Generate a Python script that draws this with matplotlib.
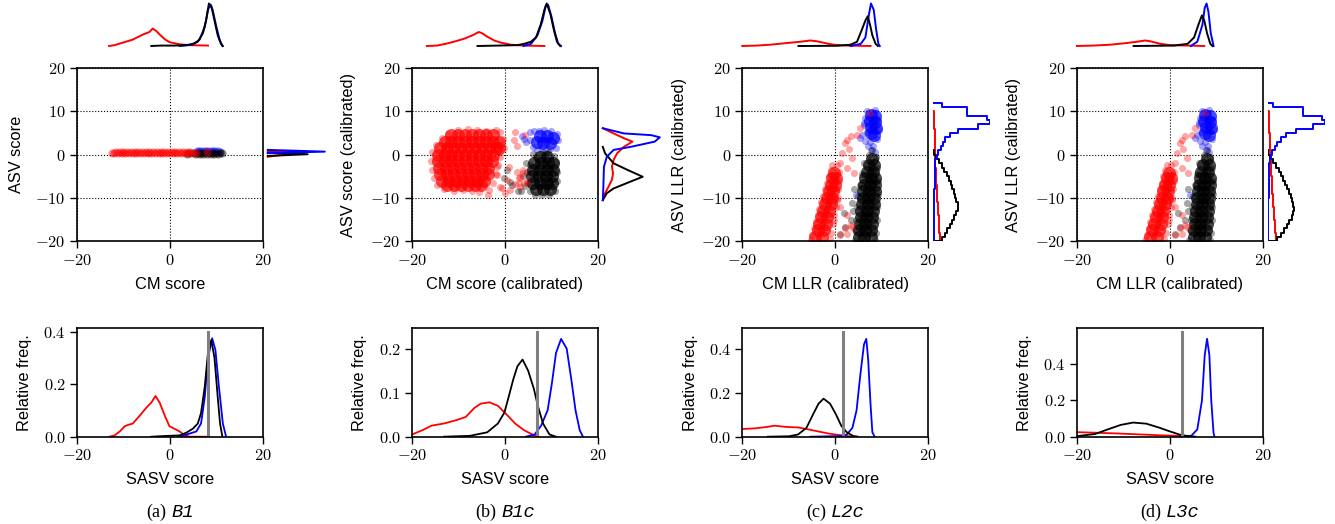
import numpy as np
import matplotlib
matplotlib.use('Agg')
import matplotlib.pyplot as plt
from matplotlib.ticker import FixedLocator, FuncFormatter

plt.rcParams['mathtext.fontset'] = 'cm'
plt.rcParams['font.family'] = ['Liberation Sans', 'DejaVu Sans']

# ---------------- text ----------------
panel_letters = ['(a)', '(b)', '(c)', '(d)']
system_names = ['B1', 'B1c', 'L2c', 'L3c']
x_labels = ['CM score', 'CM score (calibrated)', 'CM LLR (calibrated)', 'CM LLR (calibrated)']
y_labels = ['ASV score', 'ASV score (calibrated)', 'ASV LLR (calibrated)', 'ASV LLR (calibrated)']
hist_x_label = 'SASV score'
hist_y_label = 'Relative freq.'
main_xticks = [-20, 0, 20]
main_yticks = [-20, -10, 0, 10, 20]
hist_xticks = [-20, 0, 20]
hist_yticks = [[0.0, 0.2, 0.4], [0.0, 0.1, 0.2], [0.0, 0.2, 0.4], [0.0, 0.2, 0.4]]
hist_ymax = [0.413, 0.246, 0.493, 0.598]
thresholds = [8.2, 6.9, 1.6, 2.5]

# ---------------- scatter clouds (x, y) ----------------
a_red_pts = [(-12.4,0.4),(-12.0,0.3),(-11.6,0.5),(-11.2,0.3),(-10.8,0.5),(-10.4,0.3),(-10.0,0.5),(-9.6,0.3),
             (-9.2,0.5),(-8.8,0.3),(-8.4,0.5),(-8.0,0.3),(-7.6,0.5),(-7.2,0.3),(-6.8,0.5),(-6.4,0.3),(-6.0,0.5),
             (-5.6,0.3),(-5.2,0.5),(-4.8,0.3),(-4.4,0.5),(-4.0,0.3),(-3.6,0.5),(-3.2,0.3),(-2.8,0.5),(-2.4,0.3),
             (-2.0,0.5),(-1.6,0.3),(-1.2,0.5),(-0.8,0.3),(-0.4,0.5),(0.0,0.3),(0.4,0.5),(0.8,0.3),(1.2,0.5),
             (1.6,0.3),(2.0,0.5),(2.4,0.3),(2.8,0.5),(3.2,0.3),(3.6,0.5),(4.0,0.3),(4.4,0.5),(5.0,0.4),(5.7,0.3),
             (8.0,0.7)]
a_black_pts = [(5.2,0.3),(5.6,0.2),(6.0,0.4),(6.4,0.2),(6.8,0.4),(7.2,0.2),(7.6,0.4),(8.0,0.2),(8.4,0.4),
               (8.8,0.2),(9.2,0.4),(9.6,0.2),(10.0,0.4),(10.4,0.2),(10.8,0.4),(11.2,0.3),(4.4,0.3),(3.6,0.2)]
a_blue_pts = [(5.8,0.8),(6.3,0.9),(6.8,0.8),(7.3,0.9),(7.8,0.8),(8.3,0.9),(8.8,0.8),(9.3,0.9),(9.8,0.8),
              (10.3,0.9),(10.8,0.7)]

b_red_core = [(-11.5,4.5),(-10,4.5),(-8.5,4.5),(-7,4.5),(-5.5,4.5),(-4,4.5),(-2.5,4.5),
              (-13,3),(-11.5,3),(-10,3),(-8.5,3),(-7,3),(-5.5,3),(-4,3),(-2.5,3),(-1.3,3),
              (-14,1.5),(-12.5,1.5),(-11,1.5),(-9.5,1.5),(-8,1.5),(-6.5,1.5),(-5,1.5),(-3.5,1.5),(-2,1.5),(-1.2,1.5),
              (-14.5,0),(-13,0),(-11.5,0),(-10,0),(-8.5,0),(-7,0),(-5.5,0),(-4,0),(-2.5,0),
              (-14.5,-1.5),(-13,-1.5),(-11.5,-1.5),(-10,-1.5),(-8.5,-1.5),(-7,-1.5),(-5.5,-1.5),(-4,-1.5),(-2.8,-1.5),
              (-14.2,-3),(-12.7,-3),(-11.2,-3),(-9.7,-3),(-8.2,-3),(-6.7,-3),(-5.2,-3),(-3.7,-3),
              (-14,-4.5),(-12.5,-4.5),(-11,-4.5),(-9.5,-4.5),(-8,-4.5),(-6.5,-4.5),(-5,-4.5),(-3.6,-4.5),
              (-13.5,-6),(-12,-6),(-10.5,-6),(-9,-6),(-7.5,-6),(-6,-6),(-4.5,-6),
              (-12.5,-7),(-11,-7),(-9.5,-7),(-8,-7),(-6.5,-7),(-5.2,-7)]
b_red_edge = [(-16.0,-1.5),(-15.8,0.5),(-15.6,-3.5),(-15.2,-5.5),(-14.8,2.2),(-14.6,-7.0),(-13.6,3.8),(-13.2,-8.0),
              (-12.2,4.8),(-11.0,-8.5),(-10.0,5.6),(-9.0,-8.2),(-8.0,6.0),(-7.0,-8.5),(-6.0,5.8),(-5.5,-8.6),
              (-4.0,5.5),(-3.5,-8.2),(-2.0,5.6),(-1.0,5.2),(-0.5,3.5),(-0.3,1.5),(-1.0,-0.5),(-1.5,-2.5),
              (-2.0,-4.5),(-2.5,-6.5),(-1.0,-7.5),(0.0,-8.8),(-3.6,-9.3),(2.2,5.3),(1.9,3.4),(2.6,1.9),
              (0.8,-2.8),(0.4,-5.9),(-0.6,-7.7),(1.2,-8.2),(3.3,-5.1),(4.0,-4.3),(4.8,-6.2),(3.1,-6.6),
              (3.3,-7.4),(4.4,4.5),(-1.7,-2.8),(-1.7,-4.7),(-1.0,0.7),(2.5,-4.0),(3.0,-5.5),(3.8,-3.5),
              (4.2,-6.5),(2.2,-6.8)]
b_black_core = [(7.5,-0.5),(9.0,-0.5),(6.3,-2.0),(7.8,-2.0),(9.3,-2.0),(10.3,-2.0),
                (6.0,-3.5),(7.5,-3.5),(9.0,-3.5),(10.4,-3.5),(5.8,-5.0),(7.3,-5.0),(8.8,-5.0),(10.2,-5.0),
                (6.0,-6.5),(7.5,-6.5),(9.0,-6.5),(10.2,-6.5),(6.8,-8.0),(8.3,-8.0),(9.7,-8.0)]
b_black_edge = [(4.8,-4.0),(5.0,-6.5),(5.3,-2.5),(5.5,-8.5),(6.5,-9.2),(8.0,-9.3),(9.5,-9.2),(10.7,-8.3),
                (11.2,-6.0),(11.3,-4.0),(11.0,-1.8),(10.5,-0.3),(9.2,0.5),(8.2,0.3),(6.8,-0.5),(4.3,-7.2),
                (3.5,-8.5),(3.8,-5.0),(2.8,-8.5),(1.5,-7.0),(0.5,-3.5),(-0.3,-5.5),(1.0,-6.2),(4.5,-2.0),(6.0,0.2)]
b_blue_core = [(7.5,4.2),(9.0,4.3),(10.3,3.8),(8.3,2.8),(9.7,2.6),(7.0,3.0)]
b_blue_edge = [(3.7,4.3),(4.5,2.9),(5.3,5.2),(5.5,3.3),(6.2,5.4),(6.0,1.8),(7.0,1.0),(8.0,1.5),(8.8,0.3),
               (9.8,1.2),(11.0,1.5),(11.5,3.3),(11.2,4.8),(10.0,5.5),(8.5,5.6),(7.3,5.5),(4.2,3.6)]

c_red_core = [(-4.3,-19),(-2.8,-19),(-3.8,-17.5),(-2.4,-17.5),(-3.4,-16),(-2.0,-16),(-3.0,-14.5),(-1.7,-14.5),
              (-2.6,-13),(-1.4,-13),(-2.2,-11.5),(-1.0,-11.5),(-1.8,-10),(-0.7,-10),(-1.4,-8.5),(-0.4,-8.5),
              (-1.0,-7),(-0.1,-7),(-0.6,-5.5),(0.2,-5.5),(-0.2,-4.2)]
c_red_edge = [(-5.3,-19.8),(-5.0,-18.5),(-4.6,-17),(-4.2,-15.5),(-3.8,-14),(-3.4,-12.5),(-3.0,-11),(-2.6,-9.5),
              (-2.2,-8),(-1.8,-6.5),(-1.4,-5),(-1.0,-3.5),(-0.6,-2.5),(0.3,-2.5),(0.8,-4),(0.9,-6),(0.7,-8),
              (0.5,-10),(0.2,-12),(-0.2,-14),(-0.5,-16),(-0.8,-18),(-1.2,-19.5),(1.1,-2),(1.5,0.3),(2.9,1.3),
              (2.6,3.4),(4.7,4.6),(5.4,6.1),(3.6,-0.8),(2.6,-3.1),(1.1,-12),(2.5,-13.9),(2.2,-17),(1.1,-18.5),
              (3.3,-16.2),(-0.3,-15.1),(3.6,-16.6),(0.4,-10.5),(4.0,-4.3),(2.6,-18.2),(7.5,9.5),(3.3,4.2),(2.2,2.6)]
c_black_core = [(7.9,-1),(7.2,-2.5),(8.4,-2.5),(6.8,-4),(8.2,-4),(6.4,-5.5),(7.6,-5.5),(8.6,-5.5),
                (6.2,-7),(7.4,-7),(8.6,-7),(6.0,-8.5),(7.2,-8.5),(8.5,-8.5),(5.9,-10),(7.1,-10),(8.4,-10),
                (5.8,-11.5),(7.0,-11.5),(8.3,-11.5),(5.6,-13),(6.8,-13),(8.1,-13),(5.5,-14.5),(6.7,-14.5),(8.0,-14.5),
                (5.3,-16),(6.5,-16),(7.9,-16),(5.2,-17.5),(6.4,-17.5),(7.8,-17.5),(5.1,-19),(6.3,-19),(7.6,-19)]
c_black_edge = [(8.0,1),(7.3,0),(8.7,-0.5),(6.3,-2),(9.0,-3),(5.8,-4.5),(9.2,-6),(5.3,-7),(9.2,-9),(4.9,-9.5),
                (9.1,-12),(4.7,-12),(9.0,-15),(4.5,-15),(8.8,-18),(4.3,-17.5),(4.2,-19.7),(8.6,-19.8),
                (1.8,-13.5),(1.1,-18.2),(3.6,-11.2),(3.3,-15.1),(2.2,-16.6),(4.0,-8.0),(3.8,-13)]
c_blue_core = [(7.6,9.2),(8.6,9.0),(7.4,7.8),(8.6,7.6),(7.8,6.3),(8.8,6.2),(7.6,5.0),(8.4,4.5)]
c_blue_edge = [(6.9,10),(8.5,10.2),(6.5,8.5),(9.2,8),(6.3,6.8),(9.4,5.8),(6.8,5.2),(5.4,3.8),(5.8,4.5),
               (6.5,3.2),(7.5,3),(8.2,2),(7.8,1),(8.5,0.5),(7.0,2),(4.4,-9.3),(6.2,7.3),(9.0,3.5)]
# panel (d) shows the same joint cloud as (c)
d_red_core, d_red_edge = c_red_core, c_red_edge
d_black_core, d_black_edge = c_black_core, c_black_edge
d_blue_core, d_blue_edge = c_blue_core, c_blue_edge

# ---------------- top marginal (x, relative height) ----------------
a_top_red = [(-13.1,0),(-11.9,0.02),(-10.1,0.08),(-8.0,0.15),(-5.8,0.27),(-4.4,0.33),(-3.7,0.41),(-2.9,0.35),
             (-2.2,0.27),(-1.1,0.16),(-0.1,0.09),(2.1,0.04),(4.2,0.02),(8.2,0.01)]
a_top_black = [(-4.0,0.0),(-2.0,0.01),(1.0,0.01),(3.5,0.02),(4.9,0.05),(6.0,0.1),(7.1,0.3),(7.8,0.6),(8.4,1.0),
               (8.9,0.95),(9.6,0.6),(10.3,0.25),(11.0,0.05),(11.4,0.0)]
a_top_blue = [(2.1,0.0),(4.9,0.03),(6.4,0.15),(7.5,0.45),(8.2,0.85),(8.7,0.97),(9.2,0.85),(10.0,0.45),(10.7,0.15),(11.3,0.0)]
b_top_red = [(-16.8,0),(-14.6,0.01),(-12.8,0.05),(-11.0,0.1),(-8.8,0.17),(-7.0,0.25),(-5.6,0.33),(-4.9,0.3),
             (-3.8,0.22),(-2.3,0.13),(-0.9,0.08),(1.3,0.03),(4.1,0.01),(8.5,0.0)]
b_top_black = [(-5.9,0),(-1.6,0.01),(2.7,0.02),(4.1,0.05),(5.6,0.1),(6.7,0.2),(7.7,0.5),(8.5,0.85),(9.0,1.0),
               (9.8,0.75),(10.5,0.4),(11.2,0.1),(11.9,0)]
b_top_blue = [(4.0,0),(5.6,0.05),(7.0,0.25),(8.1,0.6),(8.8,0.95),(9.3,0.97),(10.0,0.7),(10.8,0.3),(11.5,0.05),(12.1,0)]
c_top_red = [(-20,0.0),(-16.9,0.01),(-14.0,0.03),(-10.4,0.07),(-7.5,0.1),(-5.4,0.13),(-3.9,0.11),(-1.8,0.06),
             (-0.3,0.03),(2.6,0.01),(7.6,0.0)]
c_top_black = [(-7.9,0),(0.4,0.005),(3.3,0.03),(4.7,0.1),(5.8,0.4),(6.5,0.6),(7.0,0.7),(7.5,0.5),(8.0,0.25),(8.7,0.05),(9.2,0)]
c_top_blue = [(3.3,0),(5.5,0.05),(6.5,0.2),(7.2,0.7),(7.7,1.0),(8.3,0.85),(8.8,0.4),(9.3,0.05),(9.6,0)]
d_top_red = [(-20,0),(-16.5,0.01),(-12.9,0.03),(-9.3,0.07),(-7.1,0.1),(-5.3,0.13),(-4.2,0.11),(-2.0,0.05),
             (0.1,0.02),(3.8,0.01),(7.4,0)]
d_top_black = [(-7.8,0),(0.9,0.01),(3.8,0.05),(5.2,0.2),(6.3,0.55),(6.9,0.72),(7.4,0.6),(8.0,0.3),(8.7,0.05),(9.2,0)]
d_top_blue = [(4.5,0),(5.9,0.1),(7.0,0.5),(7.5,0.9),(7.9,1.0),(8.3,0.8),(8.8,0.3),(9.4,0)]

# ---------------- right marginal (a), (b): (relative width, y) ----------------
a_right_red = [(0,0.9),(0.5,0.5),(0,-0.5)]
a_right_black = [(0,0.5),(0.7,0.1),(0,-0.3)]
a_right_blue = [(0,1.1),(1.0,0.7),(0,0.35)]
b_right_blue = [(0,6.1),(0.37,4.9),(0.85,4.5),(1.0,4.0),(0.91,3.0),(0.49,1.8),(0.19,1.1),(0.07,-0.5),
                (0.02,-2.8),(0.01,-7.4),(0,-10.5)]
b_right_red = [(0,6.1),(0.19,4.9),(0.37,3.8),(0.52,3.0),(0.37,1.8),(0.25,0.3),(0.19,-1.2),(0.16,-2.8),
               (0.18,-4.3),(0.16,-5.8),(0.1,-7.4),(0.04,-8.9),(0,-10.5)]
b_right_black = [(0,1.8),(0.04,0.3),(0.19,-2.0),(0.43,-3.5),(0.7,-5.1),(0.49,-6.2),(0.19,-7.8),(0.07,-8.9),(0,-10.5)]

# ---------------- right marginal (c), (d): step histograms ----------------
right_bin_edges = [-20,-19,-18,-17,-16,-15,-14,-13,-12,-11,-10,-9,-8,-7,-6,-5,-4,-3,-2,-1,
                   0,1,2,3,4,5,6,7,8,9,10,11,12]
c_right_blue = [0.01,0.01,0.01,0.01,0.015,0.015,0.015,0.02,0.02,0.02,0.02,0.02,0.025,0.025,0.025,0.03,
                0.03,0.03,0.04,0.06,0.09,0.14,0.17,0.21,0.3,0.43,0.78,1.0,0.95,0.6,0.6,0.15]
c_right_black = [0.16,0.21,0.25,0.29,0.33,0.37,0.41,0.43,0.43,0.41,0.39,0.37,0.34,0.31,0.28,0.24,
                 0.2,0.15,0.1,0.05,0.01,0,0,0,0,0,0,0,0,0,0,0]
c_right_red = [0.12,0.115,0.11,0.105,0.1,0.095,0.09,0.085,0.08,0.075,0.07,0.065,0.06,0.056,0.052,0.048,
               0.045,0.042,0.04,0.038,0.036,0.034,0.032,0.03,0.028,0.026,0.024,0.022,0.02,0.015,0,0]
d_right_blue = [0.01,0.01,0.01,0.01,0.01,0.01,0.01,0.01,0.01,0.01,0.015,0.015,0.015,0.015,0.015,0.02,
                0.02,0.02,0.03,0.05,0.08,0.12,0.17,0.24,0.32,0.5,0.8,1.0,0.95,0.62,0.62,0.09]
d_right_black = [0.17,0.23,0.29,0.34,0.38,0.42,0.45,0.46,0.45,0.42,0.4,0.37,0.34,0.31,0.27,0.23,
                 0.19,0.14,0.09,0.04,0.01,0,0,0,0,0,0,0,0,0,0,0]
d_right_red = [0.15,0.14,0.135,0.13,0.12,0.115,0.11,0.1,0.095,0.09,0.085,0.08,0.075,0.07,0.065,0.06,
               0.056,0.052,0.048,0.045,0.042,0.039,0.036,0.033,0.03,0.027,0.024,0.022,0.02,0.015,0,0]

# ---------------- SASV histograms (score, relative freq.) ----------------
a_hist_red = [(-13.0,0),(-11.9,0.005),(-10.8,0.02),(-9.7,0.04),(-9.0,0.045),(-8.0,0.05),(-6.5,0.08),(-5.1,0.11),
              (-4.0,0.13),(-3.1,0.155),(-2.2,0.13),(-1.1,0.08),(-0.1,0.04),(1.0,0.03),(2.1,0.02),(3.2,0.005),
              (4.3,0.0),(8.0,0.0)]
a_hist_black = [(-4.0,0),(-0.8,0.003),(2.1,0.005),(3.5,0.015),(4.9,0.03),(6.0,0.05),(6.7,0.09),(7.5,0.19),
                (8.2,0.32),(8.9,0.368),(9.6,0.3),(10.3,0.15),(10.8,0.05),(11.3,0.0)]
a_hist_blue = [(2.1,0),(5.7,0.02),(6.7,0.05),(7.5,0.15),(8.2,0.3),(9.1,0.375),(9.8,0.33),(10.5,0.2),(11.4,0.05),(12.1,0)]
b_hist_red = [(-20,0.005),(-17.7,0.015),(-15.8,0.025),(-13.1,0.03),(-10.3,0.038),(-8.4,0.045),(-6.6,0.065),
              (-5.2,0.075),(-3.3,0.078),(-1.5,0.07),(0.4,0.05),(2.2,0.03),(4.1,0.015),(5.9,0.005),(7.3,0.0)]
b_hist_black = [(-13.1,0),(-7.5,0.002),(-3.8,0.01),(-1.5,0.03),(-0.1,0.055),(0.8,0.09),(1.8,0.13),(2.7,0.16),
                (3.8,0.175),(5.0,0.15),(6.2,0.11),(7.1,0.07),(8.2,0.03),(9.6,0.005),(11.0,0)]
b_hist_blue = [(4.5,0),(6.4,0.005),(7.8,0.025),(9.2,0.06),(10.1,0.12),(11.0,0.19),(12.1,0.222),(13.3,0.2),
               (14.3,0.13),(15.2,0.06),(16.1,0.015),(16.8,0)]
c_hist_red = [(-20,0.035),(-17.2,0.038),(-14.5,0.045),(-13.1,0.05),(-10.8,0.045),(-8.0,0.042),(-6.2,0.035),
              (-3.9,0.025),(-1.6,0.015),(0.7,0.008),(3.0,0.002),(4.8,0)]
c_hist_black = [(-14.5,0),(-9.9,0.002),(-8.0,0.01),(-6.2,0.04),(-4.8,0.1),(-3.6,0.15),(-2.5,0.173),(-1.1,0.15),
                (0.2,0.1),(1.3,0.05),(2.5,0.02),(3.9,0.003),(4.8,0)]
c_hist_blue = [(-5.3,0),(1.1,0.003),(2.5,0.01),(3.7,0.04),(4.6,0.12),(5.4,0.28),(6.2,0.42),(6.7,0.445),
               (7.1,0.35),(7.6,0.15),(8.0,0.02),(8.5,0)]
d_hist_red = [(-20,0.025),(-16.1,0.022),(-11.5,0.018),(-6.9,0.013),(-2.3,0.008),(2.3,0.004),(5.0,0)]
d_hist_black = [(-20,0.003),(-16.1,0.015),(-13.4,0.04),(-10.6,0.065),(-7.9,0.078),(-5.1,0.072),(-2.3,0.05),
                (-0.1,0.03),(2.3,0.01),(4.1,0.003),(5.5,0)]
d_hist_blue = [(2.3,0),(4.6,0.005),(5.9,0.04),(6.9,0.2),(7.5,0.45),(8.0,0.54),(8.5,0.45),(8.9,0.2),(9.4,0.02),(9.6,0)]

# ---------------- assembly ----------------
panels = [
    dict(scatter=dict(blue=(a_blue_pts, []), black=(a_black_pts, []), red=(a_red_pts, [])),
         top=dict(red=a_top_red, blue=a_top_blue, black=a_top_black),
         right=('line', dict(red=a_right_red, blue=a_right_blue, black=a_right_black)),
         hist=dict(red=a_hist_red, blue=a_hist_blue, black=a_hist_black)),
    dict(scatter=dict(blue=(b_blue_edge, b_blue_core), black=(b_black_edge, b_black_core), red=(b_red_edge, b_red_core)),
         top=dict(red=b_top_red, blue=b_top_blue, black=b_top_black),
         right=('line', dict(red=b_right_red, blue=b_right_blue, black=b_right_black)),
         hist=dict(red=b_hist_red, blue=b_hist_blue, black=b_hist_black)),
    dict(scatter=dict(blue=(c_blue_edge, c_blue_core), black=(c_black_edge, c_black_core), red=(c_red_edge, c_red_core)),
         top=dict(red=c_top_red, blue=c_top_blue, black=c_top_black),
         right=('step', dict(red=c_right_red, blue=c_right_blue, black=c_right_black)),
         hist=dict(red=c_hist_red, blue=c_hist_blue, black=c_hist_black)),
    dict(scatter=dict(blue=(d_blue_edge, d_blue_core), black=(d_black_edge, d_black_core), red=(d_red_edge, d_red_core)),
         top=dict(red=d_top_red, blue=d_top_blue, black=d_top_black),
         right=('step', dict(red=d_right_red, blue=d_right_blue, black=d_right_black)),
         hist=dict(red=d_hist_red, blue=d_hist_blue, black=d_hist_black)),
]

COL = {'red': '#ff0000', 'black': '#000000', 'blue': '#0000ff'}
W, H = 1335, 524
fig = plt.figure(figsize=(W / 100, H / 100), dpi=100)


def box(x0, y0, x1, y1):
    return [x0 / W, 1 - y1 / H, (x1 - x0) / W, (y1 - y0) / H]


def style_ticks(ax, fmt):
    ax.tick_params(direction='out', length=4.7, width=1.0, labelsize=11.8, pad=3.4, colors='k')
    ax.xaxis.set_major_formatter(FuncFormatter(lambda v, p: r'$%d$' % round(v)))
    ax.yaxis.set_major_formatter(FuncFormatter(fmt))
    for s in ax.spines.values():
        s.set_linewidth(1.2)
        s.set_color('k')


def trim(edges, vals):
    v = np.asarray(vals, float)
    e = np.asarray(edges, float)
    nz = np.nonzero(v)[0]
    i0, i1 = nz[0], nz[-1] + 1
    v = v[i0:i1]
    e = e[i0:i1 + 1]
    ys = np.concatenate([[e[0]], np.repeat(e, 2)[1:-1], [e[-1]]])
    xs = np.concatenate([[0], np.repeat(v, 2), [0]])
    return xs, ys


lefts = [77.0, 412.0, 742.3, 1077.0]
AW = 185.8
MAIN_T, MAIN_B = 68.0, 241.3
HIST_T, HIST_B = 328.3, 436.7

for i, (P, x0) in enumerate(zip(panels, lefts)):
    ax = fig.add_axes(box(x0, MAIN_T, x0 + AW, MAIN_B))
    ax.set_xlim(-20, 20)
    ax.set_ylim(-20, 20)
    ax.xaxis.set_major_locator(FixedLocator(main_xticks))
    ax.yaxis.set_major_locator(FixedLocator(main_yticks))
    ax.grid(True, linestyle=':', color='k', linewidth=0.8)
    ax.set_axisbelow(True)
    style_ticks(ax, lambda v, p: r'$%d$' % round(v))
    for cls in ['blue', 'black', 'red']:
        edge, core = P['scatter'][cls]
        if core:
            c = np.array(core)
            ax.scatter(c[:, 0], c[:, 1], s=88, color=COL[cls], alpha=0.7, linewidths=0, zorder=2)
        e = np.array(edge)
        if i == 0:
            ax.scatter(e[:, 0], e[:, 1], s=34, color=COL[cls], alpha=0.45, linewidths=0, zorder=2)
        else:
            ax.scatter(e[:, 0], e[:, 1], s=26, color=COL[cls], alpha=0.35, linewidths=0, zorder=2)
    ax.set_xlabel(x_labels[i], fontsize=11.8)
    ax.set_ylabel(y_labels[i], fontsize=11.8)
    ax.xaxis.set_label_coords(0.5, -0.205)
    ax.yaxis.set_label_coords(-0.285 if i == 0 else -0.3, 0.5)

    # top marginal
    at = fig.add_axes(box(x0, 3.5, x0 + AW, 46.0))
    at.set_xlim(-20, 20)
    at.set_ylim(0, 1)
    at.axis('off')
    for cls in ['red', 'blue', 'black']:
        d = np.array(P['top'][cls])
        at.plot(d[:, 0], d[:, 1], color=COL[cls], lw=1.4, clip_on=False)

    # right marginal
    ar = fig.add_axes(box(x0 + AW + 5, MAIN_T, x0 + AW + 5 + 57, MAIN_B))
    ar.set_xlim(0, 1)
    ar.set_ylim(-20, 20)
    ar.axis('off')
    kind, R = P['right']
    for cls in ['red', 'black', 'blue']:
        if kind == 'line':
            d = np.array(R[cls])
            ar.plot(d[:, 0], d[:, 1], color=COL[cls], lw=1.4, clip_on=False)
        else:
            xs, ys = trim(right_bin_edges, R[cls])
            ar.plot(xs, ys, color=COL[cls], lw=1.4)

    # SASV histogram
    ah = fig.add_axes(box(x0, HIST_T, x0 + AW, HIST_B))
    ah.set_xlim(-20, 20)
    ah.set_ylim(0, hist_ymax[i])
    ah.xaxis.set_major_locator(FixedLocator(hist_xticks))
    ah.yaxis.set_major_locator(FixedLocator(hist_yticks[i]))
    style_ticks(ah, lambda v, p: r'$%.1f$' % v)
    for cls in ['red', 'blue', 'black']:
        d = np.array(P['hist'][cls])
        ah.plot(d[:, 0], d[:, 1], color=COL[cls], lw=1.3)
    ah.axvline(thresholds[i], ymin=0, ymax=0.965, color='#808080', lw=2.2)
    ah.set_xlabel(hist_x_label, fontsize=11.8)
    ah.set_ylabel(hist_y_label, fontsize=11.8)
    ah.xaxis.set_label_coords(0.5, -0.33)
    ah.yaxis.set_label_coords(-0.24, 0.5)

# captions: "(x)" in serif followed by the system name in slanted typewriter
fig.canvas.draw()
renderer = fig.canvas.get_renderer()
base_y = 1 - 517 / H
for i, x0 in enumerate(lefts):
    t1 = fig.text(0, base_y, panel_letters[i], family='Liberation Serif', fontsize=13, va='baseline')
    t2 = fig.text(0, base_y, system_names[i], family=['Liberation Mono', 'DejaVu Sans Mono'], style='italic',
                  fontsize=13.5, va='baseline')
    w1 = t1.get_window_extent(renderer).width
    w2 = t2.get_window_extent(renderer).width
    gap = 5
    xc = x0 + AW / 2
    left = xc - (w1 + gap + w2) / 2
    t1.set_x(left / W)
    t2.set_x((left + w1 + gap) / W)

fig.savefig('out.png', dpi=100)
